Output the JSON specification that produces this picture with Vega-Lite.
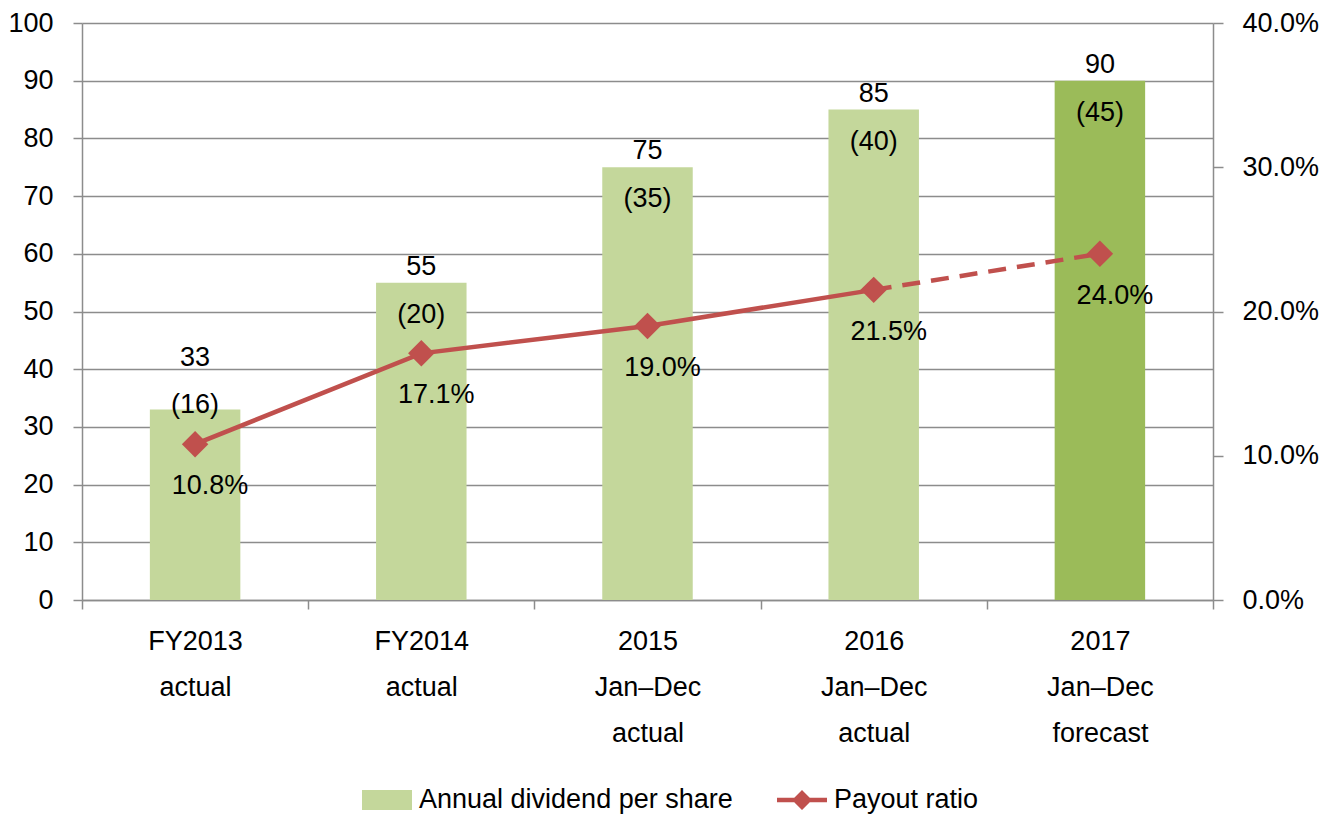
{
  "$schema": "https://vega.github.io/schema/vega-lite/v6.json",
  "width": 1131,
  "height": 577,
  "autosize": "none",
  "padding": {"left": 82, "top": 23, "right": 106, "bottom": 214},
  "config": {
    "font": "Liberation Sans",
    "view": {"stroke": null},
    "axis": {
      "labelFont": "Liberation Sans",
      "labelFontSize": 27,
      "labelColor": "#000000",
      "labelLimit": 0,
      "domainColor": "#8c8c8c",
      "tickColor": "#8c8c8c",
      "gridColor": "#8c8c8c",
      "domainWidth": 1.5,
      "tickWidth": 1.5,
      "gridWidth": 1.5,
      "title": null
    },
    "text": {"font": "Liberation Sans", "fontSize": 27, "color": "#000000"},
    "legend": {"labelFont": "Liberation Sans", "labelFontSize": 27, "labelColor": "#000000", "labelLimit": 0}
  },
  "datasets": {
    "main": [
      {"period": "FY2013|actual", "dividend": 33, "interim": 16, "payout": 10.8, "status": "actual"},
      {"period": "FY2014|actual", "dividend": 55, "interim": 20, "payout": 17.1, "status": "actual"},
      {"period": "2015|Jan–Dec|actual", "dividend": 75, "interim": 35, "payout": 19.0, "status": "actual"},
      {"period": "2016|Jan–Dec|actual", "dividend": 85, "interim": 40, "payout": 21.5, "status": "actual"},
      {"period": "2017|Jan–Dec|forecast", "dividend": 90, "interim": 45, "payout": 24.0, "status": "forecast"}
    ],
    "legendItems": [
      {"series": "Annual dividend per share"},
      {"series": "Payout ratio"}
    ]
  },
  "layer": [
    {
      "data": {"name": "main"},
      "encoding": {
        "x": {
          "field": "period", "type": "nominal", "sort": null,
          "scale": {"paddingInner": 0, "paddingOuter": 0},
          "axis": {"labelExpr": "split(datum.label, '|')", "labelAngle": 0, "tickBand": "extent", "tickSize": 9, "labelPadding": 19, "labelLineHeight": 46, "grid": false, "labelBaseline": "top"}
        },
        "y": {
          "field": "dividend", "type": "quantitative",
          "scale": {"domain": [0, 100], "nice": false},
          "axis": {"orient": "left", "values": [0, 10, 20, 30, 40, 50, 60, 70, 80, 90, 100], "grid": true, "tickSize": 9, "labelPadding": 20}
        }
      },
      "layer": [
        {
          "mark": {"type": "bar", "width": {"band": 0.4}},
          "encoding": {
            "color": {"condition": {"test": "datum.status === 'forecast'", "value": "#9BBB59"}, "value": "#C4D79B"}
          }
        },
        {
          "transform": [{"filter": "datum.period !== 'FY2013|actual'"}],
          "mark": {"type": "text", "baseline": "middle", "dy": -16},
          "encoding": {"text": {"field": "dividend", "type": "quantitative"}}
        },
        {
          "transform": [{"filter": "datum.period !== 'FY2013|actual'"}, {"calculate": "'(' + datum.interim + ')'", "as": "interimLabel"}],
          "mark": {"type": "text", "baseline": "middle", "dy": 32},
          "encoding": {"text": {"field": "interimLabel", "type": "nominal"}}
        },
        {
          "transform": [{"filter": "datum.period === 'FY2013|actual'"}],
          "mark": {"type": "text", "baseline": "middle", "dy": -52},
          "encoding": {"text": {"field": "dividend", "type": "quantitative"}}
        },
        {
          "transform": [{"filter": "datum.period === 'FY2013|actual'"}, {"calculate": "'(' + datum.interim + ')'", "as": "interimLabel"}],
          "mark": {"type": "text", "baseline": "middle", "dy": -5},
          "encoding": {"text": {"field": "interimLabel", "type": "nominal"}}
        }
      ]
    },
    {
      "data": {"name": "main"},
      "encoding": {
        "x": {
          "field": "period", "type": "nominal", "sort": null,
          "scale": {"paddingInner": 0, "paddingOuter": 0},
          "axis": {"labelExpr": "split(datum.label, '|')", "labelAngle": 0, "tickBand": "extent", "tickSize": 9, "labelPadding": 19, "labelLineHeight": 46, "grid": false, "labelBaseline": "top"}
        },
        "y": {
          "field": "payout", "type": "quantitative",
          "scale": {"domain": [0, 40], "nice": false},
          "axis": {"orient": "right", "values": [0, 10, 20, 30, 40], "labelExpr": "format(datum.value, '.1f') + '%'", "grid": false, "tickSize": 10, "labelPadding": 19}
        }
      },
      "layer": [
        {
          "transform": [{"filter": "datum.status === 'actual'"}],
          "mark": {"type": "line", "color": "#C0504D", "strokeWidth": 4.5}
        },
        {
          "transform": [{"filter": "datum.period === '2016|Jan–Dec|actual' || datum.status === 'forecast'"}],
          "mark": {"type": "line", "color": "#C0504D", "strokeWidth": 4.5, "strokeDash": [18, 11]}
        },
        {
          "mark": {"type": "point", "shape": "diamond", "size": 700, "filled": true, "color": "#C0504D", "opacity": 1}
        },
        {
          "transform": [{"calculate": "format(datum.payout, '.1f') + '%'", "as": "payoutLabel"}],
          "mark": {"type": "text", "baseline": "middle", "dy": 42, "dx": 15},
          "encoding": {"text": {"field": "payoutLabel", "type": "nominal"}}
        }
      ]
    },
    {
      "data": {"name": "legendItems"},
      "mark": {"type": "point", "filled": true, "opacity": 0},
      "encoding": {
        "color": {
          "field": "series", "type": "nominal",
          "scale": {"domain": ["Annual dividend per share", "Payout ratio"], "range": ["#C4D79B", "#C0504D"]},
          "legend": {"title": null, "orient": "none", "direction": "horizontal", "legendX": 280, "legendY": 752, "columnPadding": 44, "labelOffset": 7, "symbolSize": 2500, "symbolStrokeWidth": 0, "symbolOpacity": 1, "labelLimit": 0}
        },
        "shape": {
          "field": "series", "type": "nominal",
          "scale": {"domain": ["Annual dividend per share", "Payout ratio"], "range": ["M-1,-0.4L1,-0.4L1,0.4L-1,0.4Z", "M-1,-0.09L-0.31,-0.09L0,-0.4L0.31,-0.09L1,-0.09L1,0.09L0.31,0.09L0,0.4L-0.31,0.09L-1,0.09Z"]},
          "legend": {"title": null, "orient": "none", "direction": "horizontal", "legendX": 280, "legendY": 752, "columnPadding": 44, "labelOffset": 7, "symbolSize": 2500, "symbolStrokeWidth": 0, "symbolOpacity": 1, "labelLimit": 0}
        }
      }
    }
  ],
  "resolve": {"scale": {"y": "independent"}}
}
